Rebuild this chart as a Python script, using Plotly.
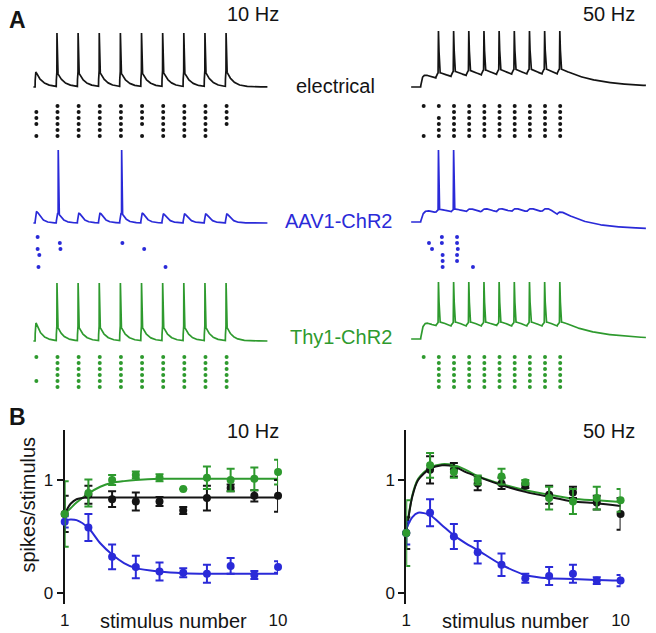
import numpy as np
import plotly.graph_objects as go

W, H = 656, 633
BLACK = "#141414"
BLUE = "#2a2ad8"
GREEN = "#2e9a2e"
FONT = "Liberation Sans, Arial, sans-serif"

# ================= Panel A data =================
STIM_10HZ_MS = [0, 100, 200, 300, 400, 500, 600, 700, 800, 900]
STIM_50HZ_MS = [0, 20, 40, 60, 80, 100, 120, 140, 160, 180]

# EPSP amplitude (mV) evoked by each stimulus and whether the example sweep spiked
ELEC10_EPSP_MV = [25, 24, 25, 26, 25, 25, 26, 25, 26, 27]
ELEC10_SPIKE = [0, 1, 1, 1, 1, 1, 1, 1, 1, 1]
AAV10_EPSP_MV = [14, 12, 12, 12, 12, 12, 11, 11, 11, 11]
AAV10_SPIKE = [0, 1, 0, 0, 1, 0, 0, 0, 0, 0]
THY10_EPSP_MV = [28, 23, 23, 23, 23, 23, 23, 23, 23, 23]
THY10_SPIKE = [0, 1, 1, 1, 1, 1, 1, 1, 1, 1]

ELEC50_EPSP_MV = [19, 10, 10, 10, 10, 10, 10, 10, 10, 10]
ELEC50_SPIKE = [0, 1, 1, 1, 1, 1, 1, 1, 1, 1]
AAV50_EPSP_MV = [14, 6, 6, 6, 6, 6, 6, 6, 6, 6]
AAV50_SPIKE = [0, 1, 1, 0, 0, 0, 0, 0, 0, 0]
THY50_EPSP_MV = [25, 9, 9, 9, 9, 9, 9, 9, 9, 9]
THY50_SPIKE = [0, 1, 1, 1, 1, 1, 1, 1, 1, 1]

# Rasters: stimulus numbers followed by a spike, one list per trial (6 trials)
ELEC10_RASTER = [
    [2, 3, 4, 5, 6, 7, 8, 9, 10],
    [1, 2, 3, 4, 5, 6, 7, 8, 9, 10],
    [1, 2, 3, 4, 5, 6, 7, 8, 9, 10],
    [1, 2, 3, 4, 5, 6, 7, 8, 9, 10],
    [2, 3, 4, 5, 7, 8, 9],
    [1, 2, 3, 4, 5, 6, 7, 8, 9],
]
ELEC50_RASTER = [
    [1, 2, 3, 4, 5, 6, 7, 8, 9, 10],
    [3, 4, 5, 6, 7, 8, 9, 10],
    [2, 3, 4, 5, 6, 7, 8, 9, 10],
    [2, 3, 4, 5, 6, 7, 8, 9, 10],
    [2, 3, 4, 5, 6, 7, 8, 9, 10],
    [1, 2, 3, 4, 5, 6, 7, 8, 9, 10],
]
THY10_RASTER = [
    [1, 2, 3, 4, 5, 6, 7, 8, 9, 10],
    [2, 3, 4, 5, 6, 7, 8, 9, 10],
    [2, 3, 4, 5, 6, 7, 8, 9, 10],
    [2, 3, 4, 5, 6, 7, 8, 9, 10],
    [1, 2, 3, 4, 5, 6, 7, 8, 9, 10],
    [2, 3, 4, 5, 6, 7, 8, 9, 10],
]
THY50_RASTER = [
    [1, 2, 3, 4, 5, 6, 7, 8, 9, 10],
    [2, 3, 4, 5, 6, 7, 8, 9, 10],
    [2, 3, 4, 5, 6, 7, 8, 9, 10],
    [2, 3, 4, 5, 6, 7, 8, 9, 10],
    [2, 3, 4, 5, 6, 7, 8, 9, 10],
    [2, 3, 4, 5, 6, 7, 8, 9, 10],
]
# AAV1-ChR2 rasters: spike times (ms) per trial
AAV10_RASTER_MS = [[12], [117, 413], [12, 120, 516], [20], [], [16, 617]]
AAV50_RASTER_MS = [[28, 48], [11, 28, 48], [15, 49], [29, 48], [29, 48], [29, 69]]

# ================= Panel B data =================
STIM_NUMBER = [1, 2, 3, 4, 5, 6, 7, 8, 9, 10]

B10_ELEC = [0.70, 0.87, 0.83, 0.81, 0.81, 0.73, 0.84, 0.93, 0.86, 0.86]
B10_ELEC_ERR = [0.16, 0.08, 0.07, 0.08, 0.04, 0.03, 0.11, 0.03, 0.05, 0.14]
B10_AAV = [0.63, 0.58, 0.32, 0.23, 0.19, 0.18, 0.17, 0.24, 0.16, 0.23]
B10_AAV_ERR = [0.05, 0.12, 0.11, 0.10, 0.08, 0.04, 0.08, 0.07, 0.035, 0.05]
B10_THY = [0.70, 0.885, 1.0, 1.045, 1.02, 0.92, 1.02, 1.0, 1.01, 1.07]
B10_THY_ERR = [0.29, 0.12, 0.045, 0.03, 0.03, 0.0, 0.10, 0.10, 0.10, 0.11]

B50_ELEC = [0.53, 1.09, 1.09, 0.97, 0.97, 0.95, 0.87, 0.89, 0.80, 0.70]
B50_ELEC_ERR = [0.14, 0.12, 0.06, 0.06, 0.05, 0.02, 0.08, 0.05, 0.06, 0.14]
B50_AAV = [0.53, 0.71, 0.50, 0.36, 0.25, 0.13, 0.15, 0.17, 0.11, 0.11]
B50_AAV_ERR = [0.10, 0.12, 0.11, 0.10, 0.10, 0.04, 0.08, 0.08, 0.03, 0.05]
B50_THY = [0.53, 1.13, 1.07, 1.0, 1.03, 0.98, 0.84, 0.81, 0.84, 0.82]
B50_THY_ERR = [0.29, 0.11, 0.05, 0.04, 0.07, 0.02, 0.10, 0.11, 0.10, 0.10]

FIT_X = [1, 1.25, 1.5, 2, 2.5, 3, 3.5, 4, 5, 6, 7, 8, 9, 10]
FIT10_ELEC = [0.70, 0.79, 0.83, 0.845, 0.845, 0.845, 0.845, 0.845, 0.845, 0.845, 0.845, 0.845, 0.845, 0.845]
FIT10_AAV = [0.645, 0.65, 0.645, 0.575, 0.44, 0.34, 0.265, 0.22, 0.19, 0.175, 0.17, 0.17, 0.17, 0.17]
FIT10_THY = [0.70, 0.75, 0.80, 0.88, 0.94, 0.975, 0.99, 1.0, 1.01, 1.01, 1.01, 1.01, 1.01, 1.01]
FIT50_ELEC = [0.53, 0.85, 1.0, 1.10, 1.13, 1.12, 1.07, 1.03, 0.955, 0.895, 0.85, 0.81, 0.795, 0.77]
FIT50_AAV = [0.57, 0.67, 0.71, 0.69, 0.60, 0.51, 0.44, 0.38, 0.25, 0.16, 0.13, 0.125, 0.115, 0.11]
FIT50_THY = [0.53, 0.86, 1.01, 1.11, 1.14, 1.13, 1.09, 1.035, 0.965, 0.91, 0.87, 0.835, 0.82, 0.805]


# ================= helpers =================
def kern(s, tr, td):
    out = np.zeros_like(s)
    m = s > 0
    out[m] = (1 - np.exp(-s[m] / tr)) * np.exp(-s[m] / td)
    sp = tr * np.log((tr + td) / tr)
    return out / ((1 - np.exp(-sp / tr)) * np.exp(-sp / td))


def membrane(stims, epsp, spikes, t0, t1, dt, tau_r, tau_d, lat,
             slow=0.0, slow_on=0.0, slow_tr=30.0, slow_td=5000.0,
             v_rest=-70.0, v_peak=20.0):
    t = np.arange(t0, t1 + dt / 2, dt)
    v = np.full(t.shape, v_rest)
    for ts, a in zip(stims, epsp):
        v = v + a * kern(t - ts, tau_r, tau_d)
    if slow:
        v = v + slow * kern(t - slow_on, slow_tr, slow_td)
    for ts, s in zip(stims, spikes):
        if s:
            u = t - (ts + lat)
            tri = np.where((u >= 0) & (u < 0.5), u / 0.5, 0.0) + \
                np.where((u >= 0.5) & (u < 2.0), 1 - (u - 0.5) / 1.5, 0.0)
            v = v + tri * (v_peak - v)
    return t, v


def vmap(p, pa, va, pb, vb):
    return va + (p - pa) * (vb - va) / (pb - pa)


def hx(p0, p1, pa, va, pb, vb, anchor):
    return dict(domain=[p0 / W, p1 / W], range=[vmap(p0, pa, va, pb, vb), vmap(p1, pa, va, pb, vb)],
                visible=False, anchor=anchor, fixedrange=True)


def hy(top, bot, pa, va, pb, vb, anchor):
    return dict(domain=[1 - bot / H, 1 - top / H], range=[vmap(bot, pa, va, pb, vb), vmap(top, pa, va, pb, vb)],
                visible=False, anchor=anchor, fixedrange=True)


fig = go.Figure()
layout = {}

# ---- Panel A axes ----
layout["xaxis3"] = hx(15, 300, 30.75, 0, 225.15, 900, "y3")
layout["xaxis4"] = hx(405, 656, 424.7, 0, 564.2, 180, "y9")
rows = [
    ("elec", (20, 100), 87, 33, 87, 31, (100, 142), 106, 136),
    ("aav", (140, 232), 223, 150, 222, 150, (230, 273), 237, 267),
    ("thy", (270, 352), 341, 283, 339, 282, (350, 392), 357, 387),
]
yidx = 3
axis_of = {}
for name, (t0p, t1p), bl, pl, br, pr, (r0p, r1p), rr1, rr6 in rows:
    layout[f"yaxis{yidx}"] = hy(t0p, t1p, bl, -70, pl, 20, "x3")
    layout[f"yaxis{yidx+1}"] = hy(r0p, r1p, rr1, 1, rr6, 6, "x3")
    layout[f"yaxis{yidx+6}"] = hy(t0p, t1p, br, -70, pr, 20, "x4")
    layout[f"yaxis{yidx+7}"] = hy(r0p, r1p, rr1, 1, rr6, 6, "x4")
    axis_of[name] = (yidx, yidx + 1, yidx + 6, yidx + 7)
    yidx += 2

traces_spec = [
    ("elec", BLACK, ELEC10_EPSP_MV, ELEC10_SPIKE, dict(tau_r=1.0, tau_d=30, lat=3),
     ELEC50_EPSP_MV, ELEC50_SPIKE, dict(tau_r=2.0, tau_d=45, lat=3)),
    ("aav", BLUE, AAV10_EPSP_MV, AAV10_SPIKE, dict(tau_r=5.0, tau_d=20, lat=9),
     AAV50_EPSP_MV, AAV50_SPIKE, dict(tau_r=4.0, tau_d=40, lat=3, slow=-9, slow_on=170, slow_tr=25)),
    ("thy", GREEN, THY10_EPSP_MV, THY10_SPIKE, dict(tau_r=1.2, tau_d=27, lat=3),
     THY50_EPSP_MV, THY50_SPIKE, dict(tau_r=3.0, tau_d=45, lat=3)),
]
for name, col, e10, s10, k10, e50, s50, k50 in traces_spec:
    ya, yra, yb, yrb = axis_of[name]
    t, v = membrane(STIM_10HZ_MS, e10, s10, -8, 1099, 0.5, **k10)
    fig.add_trace(go.Scatter(x=t, y=v, mode="lines", line=dict(color=col, width=1.7),
                             xaxis="x3", yaxis=f"y{ya}", hoverinfo="skip", showlegend=False))
    t, v = membrane(STIM_50HZ_MS, e50, s50, -12.5, 297, 0.25, **k50)
    fig.add_trace(go.Scatter(x=t, y=v, mode="lines", line=dict(color=col, width=1.7),
                             xaxis="x4", yaxis=f"y{yb}", hoverinfo="skip", showlegend=False))


def raster_points(raster, stims, lat):
    xs, ys = [], []
    for r, stim_list in enumerate(raster, start=1):
        for k in stim_list:
            xs.append(stims[k - 1] + lat)
            ys.append(r)
    return xs, ys


def raster_points_ms(raster_ms):
    xs, ys = [], []
    for r, times in enumerate(raster_ms, start=1):
        for tm in times:
            xs.append(tm)
            ys.append(r)
    return xs, ys


raster_spec = [
    ("elec", BLACK, raster_points(ELEC10_RASTER, STIM_10HZ_MS, 6), raster_points(ELEC50_RASTER, STIM_50HZ_MS, 4)),
    ("aav", BLUE, raster_points_ms(AAV10_RASTER_MS), raster_points_ms(AAV50_RASTER_MS)),
    ("thy", GREEN, raster_points(THY10_RASTER, STIM_10HZ_MS, 6), raster_points(THY50_RASTER, STIM_50HZ_MS, 4)),
]
for name, col, (x10, y10), (x50, y50) in raster_spec:
    ya, yra, yb, yrb = axis_of[name]
    fig.add_trace(go.Scatter(x=x10, y=y10, mode="markers", marker=dict(color=col, size=4),
                             xaxis="x3", yaxis=f"y{yra}", hoverinfo="skip", showlegend=False, cliponaxis=False))
    fig.add_trace(go.Scatter(x=x50, y=y50, mode="markers", marker=dict(color=col, size=4),
                             xaxis="x4", yaxis=f"y{yrb}", hoverinfo="skip", showlegend=False, cliponaxis=False))


# ---- Panel B ----
def by(p):
    return (593 - p) / 113.0


for xa, ya, px0, px1 in (("x", "y", 61, 279), ("x2", "y2", 410, 629)):
    xkey = "xaxis" if xa == "x" else "xaxis2"
    ykey = "yaxis" if ya == "y" else "yaxis2"
    layout[xkey] = dict(domain=[px0 / W, px1 / W], range=[1, 10], anchor=ya, showline=False,
                        showgrid=False, zeroline=False, ticks="", tickvals=[1, 10], ticktext=["1", "10"],
                        ticklabelstandoff=4,
                        tickfont=dict(size=17, color=BLACK, family=FONT), fixedrange=True)
    layout[ykey] = dict(domain=[1 - 604 / H, 1 - 430 / H], range=[by(604), by(430)], anchor=xa,
                        showline=True, linecolor=BLACK, linewidth=2, ticks="outside", ticklen=6,
                        tickwidth=2, tickcolor=BLACK, tickvals=[0, 1], ticktext=["0", "1"],
                        tickfont=dict(size=17, color=BLACK, family=FONT), showgrid=False,
                        zeroline=False, layer="below traces", fixedrange=True)

b_spec = [
    ("x", "y", [(FIT10_THY, GREEN), (FIT10_ELEC, BLACK), (FIT10_AAV, BLUE)],
     [(B10_ELEC, B10_ELEC_ERR, BLACK), (B10_AAV, B10_AAV_ERR, BLUE), (B10_THY, B10_THY_ERR, GREEN)]),
    ("x2", "y2", [(FIT50_THY, GREEN), (FIT50_ELEC, BLACK), (FIT50_AAV, BLUE)],
     [(B50_ELEC, B50_ELEC_ERR, BLACK), (B50_AAV, B50_AAV_ERR, BLUE), (B50_THY, B50_THY_ERR, GREEN)]),
]
for xa, ya, fits, pts in b_spec:
    for vals, col in fits:
        fig.add_trace(go.Scatter(x=FIT_X, y=vals, mode="lines", line=dict(color=col, width=2, shape="spline", smoothing=0.8),
                                 xaxis=xa, yaxis=ya, hoverinfo="skip", showlegend=False, cliponaxis=False))
    for vals, err, col in pts:
        fig.add_trace(go.Scatter(x=STIM_NUMBER, y=vals, mode="markers", marker=dict(color=col, size=8),
                                 error_y=dict(type="data", array=err, color=col, thickness=2, width=4),
                                 xaxis=xa, yaxis=ya, hoverinfo="skip", showlegend=False, cliponaxis=False))


def ann(text, px, py, size=20, color=BLACK, bold=False, angle=0, yanchor="middle"):
    return dict(text=f"<b>{text}</b>" if bold else text, x=px / W, y=1 - py / H, xref="paper", yref="paper",
                showarrow=False, xanchor="center", yanchor=yanchor, textangle=angle,
                font=dict(size=size, color=color, family=FONT))


annotations = [
    ann("A", 13, 20, size=23, bold=True),
    ann("B", 13, 417, size=23, bold=True),
    ann("10 Hz", 253, 14),
    ann("50 Hz", 617, 14),
    ann("electrical", 338, 86),
    ann("AAV1-ChR2", 341, 221, color=BLUE),
    ann("Thy1-ChR2", 343, 337, color=GREEN),
    ann("10 Hz", 253, 431),
    ann("50 Hz", 617, 431),
    ann("spikes/stimulus", 23, 505, angle=-90),
    ann("stimulus number", 172, 634, yanchor="bottom"),
    ann("stimulus number", 522, 634, yanchor="bottom"),
]

fig.update_layout(**layout)
fig.update_layout(width=W, height=H, autosize=False, margin=dict(l=0, r=0, t=0, b=0), paper_bgcolor="white",
                  plot_bgcolor="rgba(0,0,0,0)", showlegend=False, annotations=annotations,
                  font=dict(family=FONT, color=BLACK), hovermode=False)
fig.write_html("out.html", config={"responsive": False, "displayModeBar": False, "staticPlot": True},
               post_script="document.body.style.margin='0';document.body.style.overflow='hidden';")
